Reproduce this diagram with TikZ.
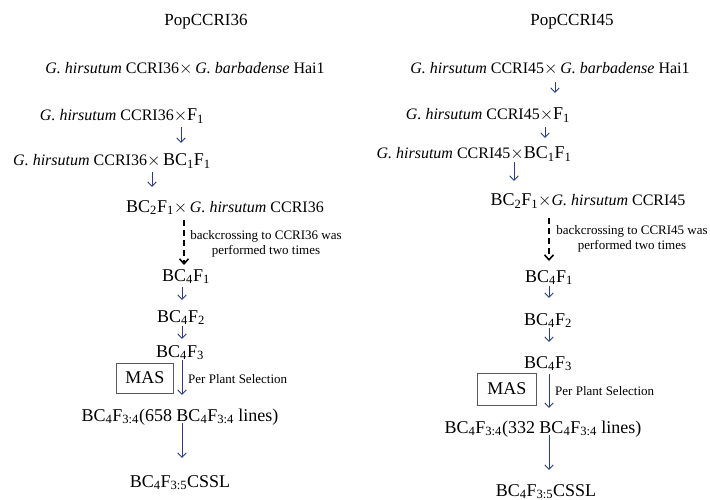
\documentclass[tikz,border=0pt]{standalone}
\usepackage{fontspec}
\setmainfont{Liberation Serif}
\usetikzlibrary{arrows.meta,calc}
\definecolor{navy}{RGB}{40,60,135}
\newcommand\BIG{\fontsize{18}{20}\selectfont}
\newcommand\X{{\fontsize{17}{18}\selectfont$\times$}}
\begin{document}
\begin{tikzpicture}[x=1pt,y=-1pt,
 txt/.style={anchor=base, inner sep=0pt, font=\fontsize{16}{18}\selectfont},
 big/.style={anchor=base, inner sep=0pt, font=\BIG},
 ttl/.style={anchor=base, inner sep=0pt, font=\fontsize{17}{19}\selectfont},
 small/.style={inner sep=0pt, font=\fontsize{13}{15}\selectfont},
 arr/.style={draw=navy, line width=0.9pt, -{Straight Barb[length=4.5pt,width=8.5pt]}},
 darr/.style={draw=black, line width=1.6pt, dash pattern=on 6pt off 4pt, -{Straight Barb[length=5pt,width=9pt]}},
 masbox/.style={draw=black!65, line width=0.8pt, minimum width=57pt, minimum height=30pt, inner sep=0pt, font=\BIG}]
\useasboundingbox (0,0) rectangle (710,500);
% ---------- left column ----------
\node[ttl] (t1) at (206,26) {PopCCRI36};
\node[txt] (l1) at (185,74) {\textit{G. hirsutum} CCRI36\X\,\textit{G. barbadense} Hai1};
\node[txt] (l2) at (122,121) {\textit{G. hirsutum} CCRI36\X{\BIG F\textsubscript{1}}};
\node[txt] (l3) at (112,166) {\textit{G. hirsutum} CCRI36\X\,{\BIG BC\textsubscript{1}F\textsubscript{1}}};
\node[txt] (l4) at (225,212) {{\BIG BC\textsubscript{2}F\textsubscript{1}}\X\,\textit{G. hirsutum} CCRI36};
\node[big] (l5) at (186,281) {BC\textsubscript{4}F\textsubscript{1}};
\node[big] (l6) at (181,322) {BC\textsubscript{4}F\textsubscript{2}};
\node[big] (l7) at (180,357) {BC\textsubscript{4}F\textsubscript{3}};
\node[big] (l8) at (180,421) {BC\textsubscript{4}F\textsubscript{3:4}(658 BC\textsubscript{4}F\textsubscript{3:4} lines)};
\node[big] (l9) at (180,487) {BC\textsubscript{4}F\textsubscript{3:5}CSSL};
\node[small, align=center] (llbl) at (266,244) {backcrossing to CCRI36 was\\performed two times};
\node[small, anchor=base west] (lpps) at (188,383) {Per Plant Selection};
\node[masbox] (lmas) at (145,378) {MAS};
\draw[arr] ($(l2.base -| 181,0)+(0,6)$) -- ($(l3.base -| 181,0)+(0,-23)$);
\draw[arr] ($(l3.base -| 152,0)+(0,6)$) -- ($(l4.base -| 152,0)+(0,-25)$);
\draw[darr] ($(l4.base -| 184,0)+(0,8)$) -- ($(l5.base -| 184,0)+(0,-16)$);
\draw[arr] ($(l5.base -| 182,0)+(0,6)$) -- ($(l6.base -| 182,0)+(0,-22)$);
\draw[arr] ($(l6.base -| 182,0)+(0,4)$) -- ($(l7.base -| 182,0)+(0,-18)$);
\draw[arr] ($(l7.base -| 182,0)+(0,3)$) -- ($(l8.base -| 182,0)+(0,-26)$);
\draw[arr] ($(l8.base -| 182,0)+(0,2)$) -- ($(l9.base -| 182,0)+(0,-29)$);
% ---------- right column ----------
\node[ttl] (t2) at (572,26) {PopCCRI45};
\node[txt] (r1) at (550,74) {\textit{G. hirsutum} CCRI45\X\,\textit{G. barbadense} Hai1};
\node[txt] (r2) at (488,120) {\textit{G. hirsutum} CCRI45\X{\BIG F\textsubscript{1}}};
\node[txt] (r3) at (474,159) {\textit{G. hirsutum} CCRI45\X{\BIG BC\textsubscript{1}F\textsubscript{1}}};
\node[txt] (r4) at (588,206) {{\BIG BC\textsubscript{2}F\textsubscript{1}}\X\textit{G. hirsutum} CCRI45};
\node[big] (r5) at (549,282) {BC\textsubscript{4}F\textsubscript{1}};
\node[big] (r6) at (548,325) {BC\textsubscript{4}F\textsubscript{2}};
\node[big] (r7) at (548,368) {BC\textsubscript{4}F\textsubscript{3}};
\node[big] (r8) at (543,433) {BC\textsubscript{4}F\textsubscript{3:4}(332 BC\textsubscript{4}F\textsubscript{3:4} lines)};
\node[big] (r9) at (546,496) {BC\textsubscript{4}F\textsubscript{3:5}CSSL};
\node[small, align=center] (rlbl) at (632,239) {backcrossing to CCRI45 was\\performed two times};
\node[small, anchor=base west] (rpps) at (555,395) {Per Plant Selection};
\node[masbox, minimum width=59pt, minimum height=32pt] (rmas) at (507,389) {MAS};
\draw[arr] ($(r1.base -| 555,0)+(0,8)$) -- ($(r2.base -| 555,0)+(0,-27)$);
\draw[arr] ($(r2.base -| 545,0)+(0,7)$) -- ($(r3.base -| 545,0)+(0,-21)$);
\draw[arr] ($(r3.base -| 514,0)+(0,3)$) -- ($(r4.base -| 514,0)+(0,-25)$);
\draw[darr] ($(r4.base -| 549,0)+(0,12)$) -- ($(r5.base -| 549,0)+(0,-21)$);
\draw[arr] ($(r5.base -| 549,0)+(0,4)$) -- ($(r6.base -| 549,0)+(0,-27)$);
\draw[arr] ($(r6.base -| 549,0)+(0,3)$) -- ($(r7.base -| 549,0)+(0,-26)$);
\draw[arr] ($(r7.base -| 549,0)+(0,6)$) -- ($(r8.base -| 549,0)+(0,-25)$);
\draw[arr] ($(r8.base -| 549,0)+(0,2)$) -- ($(r9.base -| 549,0)+(0,-26)$);
\end{tikzpicture}
\end{document}
